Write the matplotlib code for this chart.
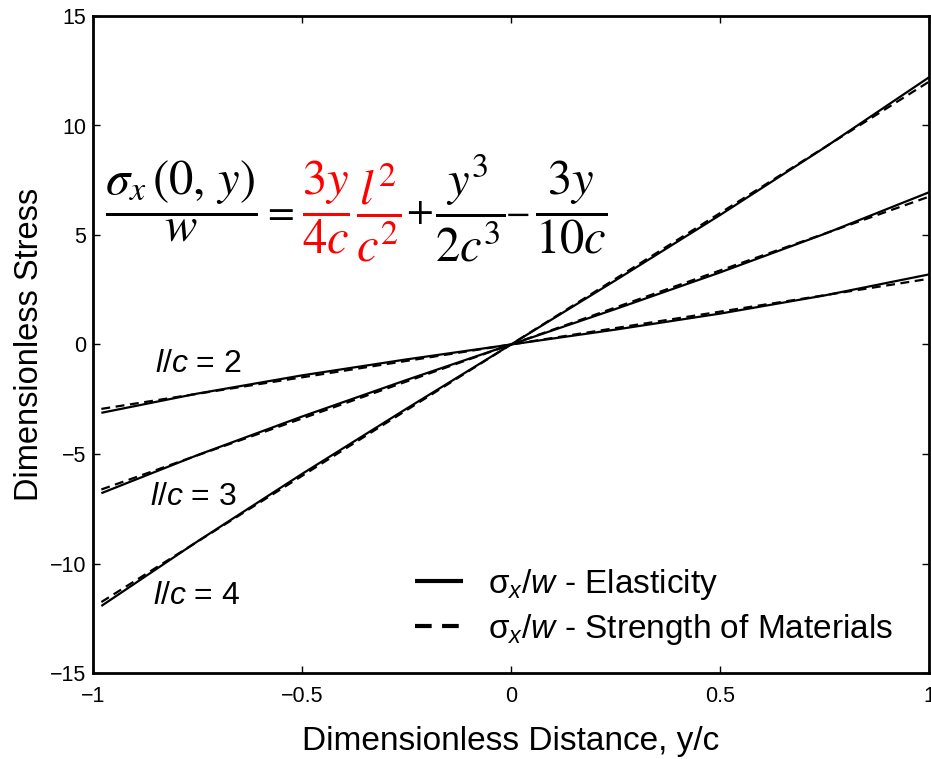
import matplotlib
matplotlib.use("Agg")
import matplotlib.pyplot as plt
from matplotlib.lines import Line2D

plt.rcParams.update({
    'font.family': 'Liberation Sans',
    'mathtext.fontset': 'custom',
    'mathtext.rm': 'Liberation Sans',
    'mathtext.it': 'Liberation Sans:italic',
    'mathtext.bf': 'Liberation Sans:bold',
})

# dimensionless distance y/c
y_c = [-0.98, -0.75, -0.5, -0.25, 0.0, 0.25, 0.5, 0.75, 1.0]

# elasticity solution
elast_lc2 = [-3.12, -2.24, -1.41, -0.68, 0.0, 0.68, 1.41, 2.24, 3.2]
elast_lc3 = [-6.79, -5.05, -3.29, -1.62, 0.0, 1.62, 3.29, 5.05, 6.95]
elast_lc4 = [-11.94, -8.99, -5.91, -2.93, 0.0, 2.93, 5.91, 8.99, 12.2]

# strength of materials solution
som_lc2 = [-2.94, -2.25, -1.5, -0.75, 0.0, 0.75, 1.5, 2.25, 3.0]
som_lc3 = [-6.62, -5.06, -3.38, -1.69, 0.0, 1.69, 3.38, 5.06, 6.75]
som_lc4 = [-11.76, -9.0, -6.0, -3.0, 0.0, 3.0, 6.0, 9.0, 12.0]

curve_labels = ['$l/c$ = 2', '$l/c$ = 3', '$l/c$ = 4']
x_ticks = [-1, -0.5, 0, 0.5, 1]
x_ticklabels = ['\u22121', '\u22120.5', '0', '0.5', '1']
y_ticks = [-15, -10, -5, 0, 5, 10, 15]

W, H = 931, 759
fig = plt.figure(figsize=(W / 100, H / 100), dpi=100)
ax = fig.add_axes([93 / W, 1 - 673 / H, (929 - 93) / W, (673 - 16) / H])

for e, s in zip([elast_lc2, elast_lc3, elast_lc4], [som_lc2, som_lc3, som_lc4]):
    ax.plot(y_c, e, color='black', lw=1.6, solid_capstyle='butt')
    ax.plot(y_c, s, color='black', lw=1.6, dashes=(4, 2.5))

ax.set_xlim(-1, 1)
ax.set_ylim(-15, 15)
ax.set_xticks(x_ticks)
ax.set_xticklabels(x_ticklabels)
ax.set_yticks(y_ticks)
ax.tick_params(direction='in', length=5, width=1, top=True, right=True,
               labelsize=15.5)
ax.tick_params(axis='x', pad=9)
ax.tick_params(axis='y', pad=5)
for sp in ax.spines.values():
    sp.set_linewidth(2)

ax.set_xlabel('Dimensionless Distance, y/c', fontsize=24)
ax.set_ylabel('Dimensionless Stress', fontsize=23.5)
ax.xaxis.set_label_coords(0.5, -0.08)
ax.yaxis.set_label_coords(-0.058, 0.5)

# curve labels
label_pos = [(-0.852, -0.9), (-0.864, -6.96), (-0.856, -11.48)]
for txt, (px, py) in zip(curve_labels, label_pos):
    ax.text(px, py, txt, fontsize=23, ha='left', va='center')

# legend
handles = [Line2D([], [], color='black', lw=3, solid_capstyle='butt'),
           Line2D([], [], color='black', lw=3, dashes=(4, 2.5))]
labels = ['\u03c3$_x$/$w$ - Elasticity', '\u03c3$_x$/$w$ - Strength of Materials']
ax.legend(handles, labels, loc='upper left', bbox_to_anchor=(415 / W, 1 - 567 / H),
          bbox_transform=fig.transFigure, frameon=False, fontsize=24,
          handlelength=1.45, handletextpad=0.75, borderpad=0, borderaxespad=0,
          labelspacing=0.3)

# equation, black and red parts (centre of each piece in pixels, font size)
eq_parts = [
    (r'$\dfrac{\sigma_x\,(0,\,y)}{w}$', 'black', 181, 35),
    (r'$=$', 'black', 278.5, 28),
    (r'$\dfrac{3y}{4c}$', 'red', 325.5, 35),
    (r'$\dfrac{l^2}{c^2}$', 'red', 378.5, 35),
    (r'$+$', 'black', 419, 28),
    (r'$\dfrac{y^3}{2c^3}$', 'black', 470.5, 35),
    (r'$-$', 'black', 517, 26),
    (r'$\dfrac{3y}{10c}$', 'black', 571, 35),
]
eq_base = 223
for s, col, px, fs in eq_parts:
    fig.text(px / W, 1 - eq_base / H, s, color=col, fontsize=fs,
             math_fontfamily='stix', ha='center', va='baseline')

fig.savefig('out.png', dpi=100)
